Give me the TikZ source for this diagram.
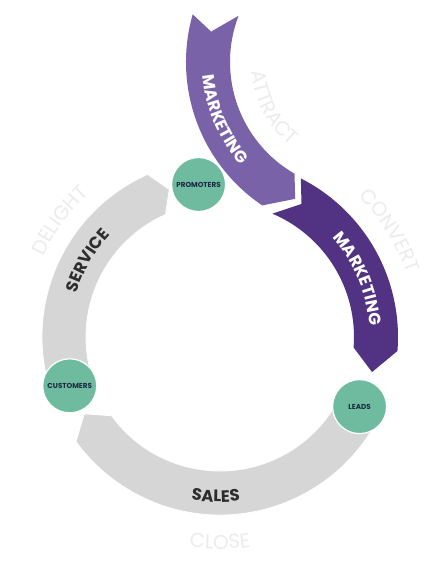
\documentclass[tikz,border=0pt]{standalone}
\usepackage{fontspec}
\setmainfont{Poppins}
\usetikzlibrary{positioning,calc,decorations.text}

\definecolor{ringgray}{RGB}{214,214,214}
\definecolor{attractpurple}{RGB}{122,98,168}
\definecolor{convertpurple}{RGB}{82,50,130}
\definecolor{stageteal}{RGB}{110,187,160}
\definecolor{stagetext}{RGB}{28,42,66}
\definecolor{titlegray}{RGB}{45,45,45}
\definecolor{ghostgray}{RGB}{236,236,236}

\begin{document}
\begin{tikzpicture}[x=1pt,y=1pt]

\tikzset{
	ringband/.style={
		fill=ringgray,
		draw=white,
		line width=0.8pt
	}
}

\tikzset{
	stage/.style={
		circle,
		fill=stageteal,
		draw=white,
		line width=1.2pt,
		minimum size=54pt,
		inner sep=0pt,
		text=stagetext,
		font=\fontsize{7.2}{8}\selectfont\bfseries
	}
}

\def\bandfont{\fontsize{16.5}{17}\selectfont\bfseries}
\def\ghostfont{\fontsize{20}{20}\selectfont}
\def\rin{134}
\def\rout{178}
\def\rmid{156}

\useasboundingbox (0,0) rectangle (440,580);
\fill[white] (0,0) rectangle (440,580);

\coordinate (ringcenter) at (220,243);
\coordinate (attractcenter) at (359,518);

% service
\fill[ringband] ($(ringcenter)+(198:\rout)$) arc[start angle=198,end angle=114,radius=\rout]
	-- ($(ringcenter)+(109:\rmid)$) -- ($(ringcenter)+(114:\rin)$)
	arc[start angle=114,end angle=198,radius=\rin] -- cycle;

% sales
\fill[ringband] ($(ringcenter)+(334:\rout)$) arc[start angle=334,end angle=216,radius=\rout]
	-- ($(ringcenter)+(209.5:\rmid)$) -- ($(ringcenter)+(216:\rin)$)
	arc[start angle=216,end angle=334,radius=\rin] -- cycle;

% attract marketing
\fill[attractpurple] ($(attractcenter)+(164:173)$) arc[start angle=164,end angle=236,radius=173]
	-- ($(attractcenter)+(245:151)$) -- ($(attractcenter)+(240:129)$)
	arc[start angle=240,end angle=159,radius=129]
	-- ($(attractcenter)+(168.4:151)$) -- cycle;

% convert marketing
\fill[convertpurple] ($(ringcenter)+(63:\rout)$) arc[start angle=63,end angle=-4.5,radius=\rout]
	-- ($(ringcenter)+(-13:\rmid)$) -- ($(ringcenter)+(-4.5:\rin)$)
	arc[start angle=-4.5,end angle=67,radius=\rin]
	-- ($(ringcenter)+(58.5:\rmid)$) -- cycle;

% band titles
\path[decorate,decoration={text along path,text align=center,text color=white,
	text={|\bandfont|MARKETING}}]
	($(attractcenter)+(173:157)$) arc[start angle=173,end angle=233,radius=157];
\path[decorate,decoration={text along path,text align=center,text color=white,
	text={|\bandfont|MARKETING}}]
	($(ringcenter)+(53:150)$) arc[start angle=53,end angle=-7,radius=150];
\path[decorate,decoration={text along path,text align=center,text color=titlegray,
	text={|\bandfont|SERVICE}}]
	($(ringcenter)+(180:150)$) arc[start angle=180,end angle=120,radius=150];
\path[decorate,decoration={text along path,text align=center,text color=titlegray,
	text={|\bandfont|SALES}}]
	($(ringcenter)+(248:165)$) arc[start angle=248,end angle=289,radius=165];

% ghost words
\path[decorate,decoration={text along path,text align=center,text color=ghostgray,
	text={|\ghostfont|ATTRACT}}]
	($(attractcenter)+(178:108)$) arc[start angle=178,end angle=238,radius=108];
\path[decorate,decoration={text along path,text align=center,text color=ghostgray,
	text={|\ghostfont|CONVERT}}]
	($(ringcenter)+(62:197)$) arc[start angle=62,end angle=2,radius=197];
\path[decorate,decoration={text along path,text align=center,text color=ghostgray,
	text={|\ghostfont|DELIGHT}}]
	($(ringcenter)+(174:194)$) arc[start angle=174,end angle=114,radius=194];
\path[decorate,decoration={text along path,text align=center,text color=ghostgray,
	text={|\ghostfont|CLOSE}}]
	($(ringcenter)+(250:212)$) arc[start angle=250,end angle=290,radius=212];

% stages
\node[stage] (promoters) at ($(ringcenter)+(98:154)$) {PROMOTERS};
\node[stage] (customers) at ($(ringcenter)+(198:158)$) {CUSTOMERS};
\node[stage] (leads) at ($(ringcenter)+(-26.5:156)$) {LEADS};

\end{tikzpicture}
\end{document}
